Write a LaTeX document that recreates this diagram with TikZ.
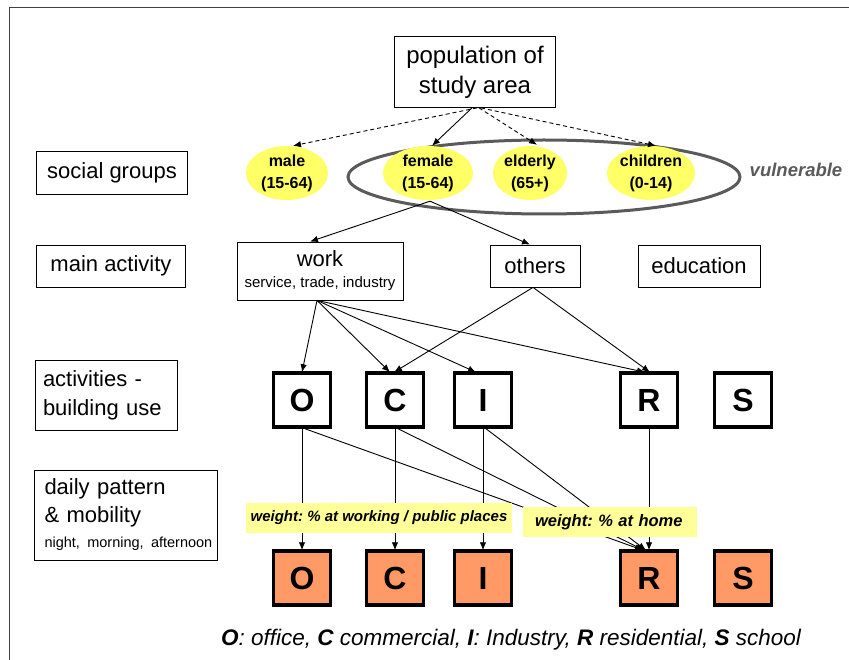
\documentclass[tikz,border=0pt]{standalone}
\usepackage{fontspec}
\setmainfont{Liberation Sans}
\usetikzlibrary{shapes.geometric,arrows.meta}
\definecolor{grpyellow}{RGB}{255,255,102}
\definecolor{lblyellow}{RGB}{255,255,153}
\definecolor{bldorange}{RGB}{255,153,102}
\definecolor{vulgray}{RGB}{90,90,90}
\newcommand\fsL{\fontsize{22}{29}\selectfont}
\newcommand\fsM{\fontsize{16}{22}\selectfont}
\newcommand\fsS{\fontsize{15}{18}\selectfont}
\newcommand\fsXL{\fontsize{32}{36}\selectfont}
\frenchspacing
\begin{document}
\begin{tikzpicture}[x=1pt,y=-1pt,
  box/.style={draw, line width=0.8pt, inner sep=0pt, font=\fsL, align=center},
  sidebox/.style={draw, line width=0.8pt, inner xsep=9pt, inner ysep=0pt, font=\fsL, align=left},
  grp/.style={ellipse, fill=grpyellow, inner sep=0pt, font=\bfseries\fsM, align=center, minimum height=54},
  bldg/.style={draw, line width=3.5pt, minimum width=57, minimum height=54, font=\bfseries\fsXL, inner sep=0pt},
  bldgb/.style={bldg, fill=bldorange},
  arr/.style={-{Latex[length=8pt,width=6.5pt]}, line width=0.9pt},
  darr/.style={arr, dash pattern=on 4pt off 3pt},
  wlabel/.style={fill=lblyellow, inner sep=0pt, minimum height=30, font=\bfseries\itshape\fsS}
]
\useasboundingbox (0,0) rectangle (849,660);
\draw[line width=1pt, black!75] (9,660) -- (9,7.5) -- (849,7.5);

% top
\node[box, minimum width=161, minimum height=71, font=\fontsize{24}{30}\selectfont] (pop) at (475,72) {population of\\study area};

% side labels
\node[sidebox, minimum width=151, minimum height=43] (sg) at (112,173) {social groups};
\node[sidebox, minimum width=149, minimum height=42] (ma) at (111,266) {main activity};
\node[sidebox, minimum width=142, minimum height=70, text width=126, inner xsep=8pt] (ab) at (106,395) {activities -\\building use};
\node[sidebox, minimum width=183, minimum height=90, text width=173, inner xsep=5pt] (dp) at (126,515) {\hspace*{5pt}daily pattern\\[-1pt]\hspace*{5pt}\& mobility\\[-4pt]\hspace*{5pt}{\fontsize{14.5}{16}\selectfont night, morning, afternoon}};

% social groups
\node[draw=vulgray, line width=3pt, ellipse, minimum width=392, minimum height=74] (vul) at (544,177) {};
\node[grp, minimum width=82] (male) at (287,173) {male\\(15-64)};
\node[grp, minimum width=90] (female) at (428,173) {female\\(15-64)};
\node[grp, minimum width=74] (elderly) at (530,173) {elderly\\(65+)};
\node[grp, minimum width=80] (children) at (651,173) {children\\(0-14)};
\node[font=\bfseries\itshape\fontsize{18.5}{22}\selectfont, text=vulgray, inner sep=0pt] (vt) at (796,170) {vulnerable};

\draw[darr] ([xshift=2]pop.south) -- ([xshift=6]male.north);
\draw[arr] ([xshift=-3]pop.south) -- ([xshift=4]female.north);
\draw[darr] ([xshift=4]pop.south) -- ([xshift=7,yshift=1]elderly.north);
\draw[darr] ([xshift=6]pop.south) -- ([xshift=5]children.north);

% main activity
\node[box, minimum width=166, minimum height=58] (work) at (320,271) {work\\[-8pt]{\fontsize{15}{17}\selectfont service, trade, industry}};
\node[box, minimum width=90, minimum height=42] (others) at (535,266) {others};
\node[box, minimum width=122, minimum height=42] (edu) at (699,266) {education};

\coordinate (fs) at ([xshift=2,yshift=-1]female.south);
\draw[arr] (fs) -- ([xshift=-10]work.north);
\draw[arr] (fs) -- ([xshift=-5]others.north);

% buildings top
\node[bldg] (O) at (302,400) {O};
\node[bldg] (C) at (395,400) {C};
\node[bldg] (I) at (483,400) {I};
\node[bldg] (R) at (649,400) {R};
\node[bldg] (S) at (743,400) {S};

\coordinate (ws) at ([xshift=-3]work.south);
\draw[arr] (ws) -- ([yshift=-1]O.north);
\draw[arr] (ws) -- ([xshift=-5,yshift=-1]C.north);
\draw[arr] (ws) -- ([xshift=-7,yshift=-1]I.north);
\draw[arr] (ws) -- ([xshift=-4,yshift=-1]R.north);
\coordinate (os) at ([xshift=-2]others.south);
\draw[arr] (os) -- ([xshift=-1,yshift=-1]C.north);
\draw[arr] (os) -- ([xshift=1,yshift=-1]R.north);

% buildings bottom
\node[bldgb] (Ob) at (302,578) {O};
\node[bldgb] (Cb) at (395,578) {C};
\node[bldgb] (Ib) at (483,578) {I};
\node[bldgb] (Rb) at (649,578) {R};
\node[bldgb] (Sb) at (743,578) {S};

\draw[arr] (O.south) -- ([yshift=-1]Ob.north);
\draw[arr] (C.south) -- ([yshift=-1]Cb.north);
\draw[arr] (I.south) -- ([yshift=-1]Ib.north);
\draw[arr] (R.south) -- ([yshift=-1]Rb.north);
\draw[arr] ([xshift=3]O.south) -- ([xshift=-6,yshift=-1]Rb.north);
\draw[arr] ([xshift=3]C.south) -- ([xshift=-5,yshift=-1]Rb.north);
\draw[arr] ([xshift=3]I.south) -- ([xshift=-3,yshift=-1]Rb.north);

% weight labels
\node[wlabel, minimum width=266] (w1) at (379,518) {weight: \% at working / public places};
\node[wlabel, minimum width=174, text width=158, inner xsep=8pt, align=left, font=\bfseries\itshape\fontsize{16.5}{18}\selectfont] (w2) at (610,522) {\hspace*{4pt}weight: \% at home};

% caption
\node[font=\itshape\fontsize{22.5}{27}\selectfont, inner sep=0pt] (cap) at (511,640) {\textbf{O}: office, \textbf{C} commercial, \textbf{I}: Industry, \textbf{R} residential, \textbf{S} school};
\end{tikzpicture}
\end{document}
